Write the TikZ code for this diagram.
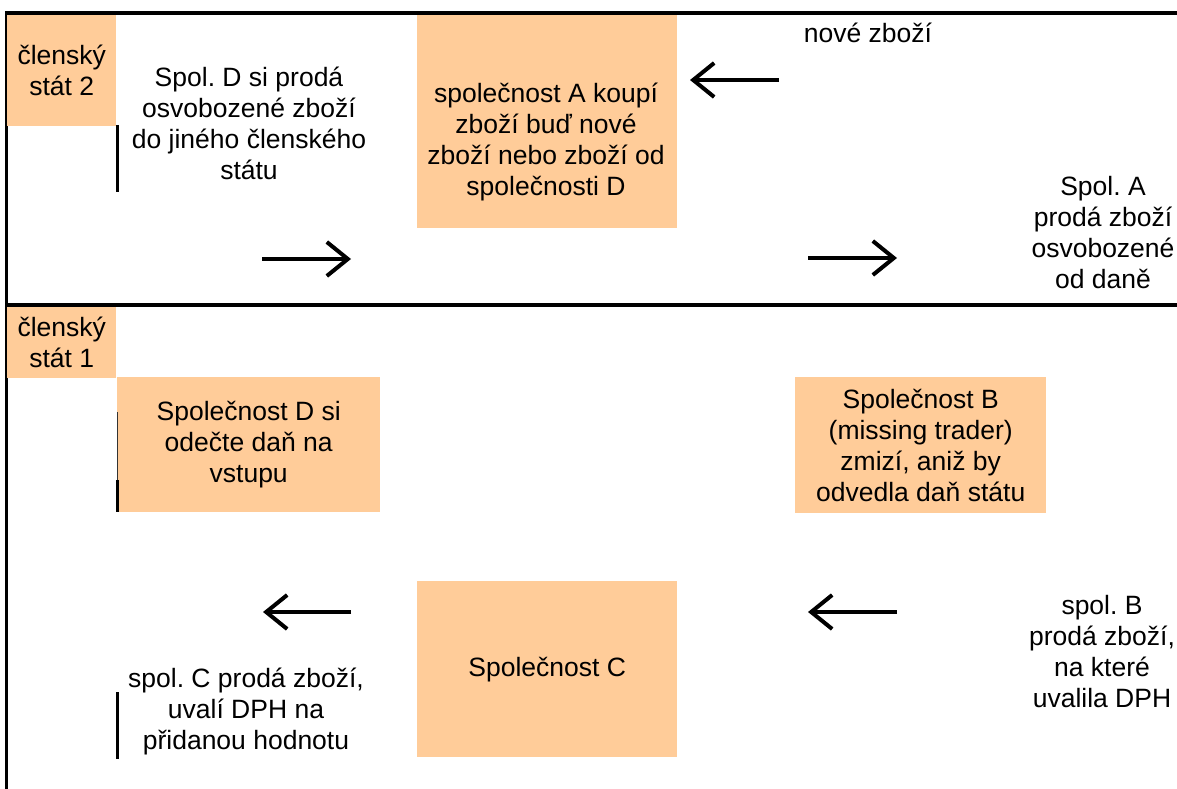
\documentclass[tikz,border=0pt]{standalone}
\usepackage{fontspec}
\setmainfont{Liberation Sans}
\usetikzlibrary{arrows.meta}
\definecolor{peach}{HTML}{FFCC99}
\tikzset{
  x=1pt, y=-1pt,
  txt/.style={font={\fontsize{26.5}{31}\selectfont\frenchspacing}, align=center, inner sep=0pt, text=black},
  pbox/.style={fill=peach, draw=none, inner sep=0pt, anchor=north west},
  border/.style={line width=3.2pt, black},
  tick/.style={line width=3pt, black},
  flow/.style={line width=4pt, -{Straight Barb[length=21pt,width=34pt,line width=4pt]}},
}
\begin{document}
\begin{tikzpicture}
\useasboundingbox (0,0) rectangle (1177,789);
% frame
\coordinate (tl) at (5,13);
\coordinate (tr) at (1177,13);
\coordinate (ml) at (5,305);
\coordinate (mr) at (1177,305);
\coordinate (bl) at (6.5,789);
\coordinate (tl2) at (6.5,11.5);
\draw[border] (tl) -- (tr);
\draw[border] (ml) -- (mr);
\draw[border] (tl2) -- (bl);

% boxes
\node[pbox, minimum width=109pt, minimum height=111pt, txt] (ms2) at (7,14.5) {členský\\stát 2};
\node[pbox, minimum width=109pt, minimum height=71pt, txt] (ms1) at (7,306.5) {členský\\stát 1};
\node[pbox, minimum width=260pt, minimum height=213pt] (boxA) at (417,15) {};
\node[txt] (textA) at (546,142) {společnost A koupí\\zboží buď nové\\zboží nebo zboží od\\společnosti D};
\node[pbox, minimum width=263pt, minimum height=135pt, txt] (boxD) at (117,377) {Společnost D si\\odečte daň na\\vstupu};
\node[pbox, minimum width=251pt, minimum height=136pt, txt] (boxB) at (795,377) {Společnost B\\(missing trader)\\zmizí, aniž by\\odvedla daň státu};
\node[pbox, minimum width=260pt, minimum height=176pt, txt] (boxC) at (417,581) {Společnost C};

% free texts
\node[txt] (tD) at (249,123) {Spol. D si prodá\\osvobozené zboží\\do jiného členského\\státu};
\node[txt] (tnew) at (868,33) {nové zboží};
\node[txt] (tA) at (1103,233) {Spol. A\\prodá zboží\\osvobozené\\od daně};
\node[txt] (tC) at (246,711) {spol. C prodá zboží,\\uvalí DPH na\\přidanou hodnotu};
\node[txt] (tB) at (1102,652) {spol. B\\prodá zboží,\\na které\\uvalila DPH};

% small vertical marks
\coordinate (v1a) at (117,125);
\coordinate (v1b) at (117,192);
\draw[tick] (v1a) -- (v1b);
\coordinate (v2a) at (117,412);
\coordinate (v2m) at (117,480);
\coordinate (v2b) at (117,512);
\draw[line width=1pt, black!80] (v2a) -- (v2m);
\draw[tick] (v2m) -- (v2b);
\coordinate (v3a) at (117,692);
\coordinate (v3b) at (117,759);
\draw[tick] (v3a) -- (v3b);

% arrows
\coordinate (a1s) at (262,259);
\coordinate (a1e) at (351,259);
\draw[flow] (a1s) -- (a1e);
\coordinate (a2s) at (779,80);
\coordinate (a2e) at (690,80);
\draw[flow] (a2s) -- (a2e);
\coordinate (a3s) at (808,258);
\coordinate (a3e) at (897,258);
\draw[flow] (a3s) -- (a3e);
\coordinate (a4s) at (351,612);
\coordinate (a4e) at (263,612);
\draw[flow] (a4s) -- (a4e);
\coordinate (a5s) at (897,612);
\coordinate (a5e) at (808,612);
\draw[flow] (a5s) -- (a5e);
\end{tikzpicture}
\end{document}
